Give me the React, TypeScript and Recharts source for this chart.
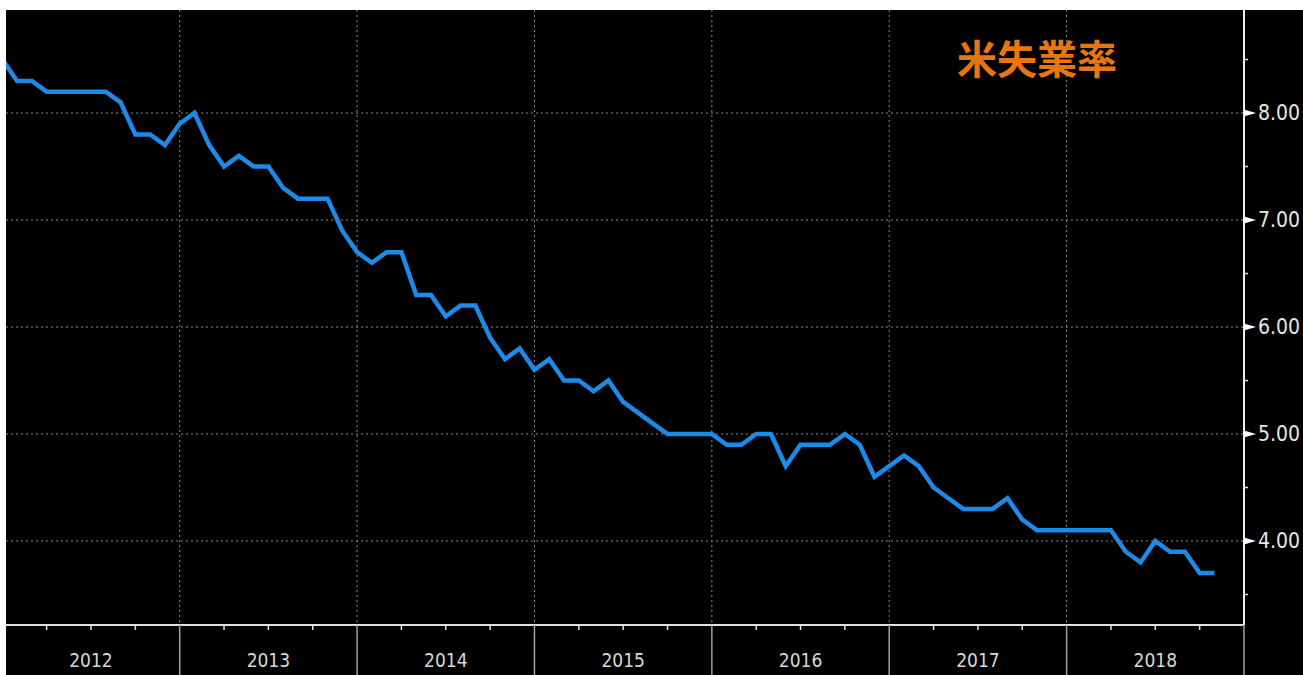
import { LineChart, Line, XAxis, YAxis, CartesianGrid } from 'recharts';

// US unemployment rate, monthly, Dec 2011 .. Oct 2018 (month index t = 0 .. 82)
const RATES = [
    8.5,
    8.3, 8.3, 8.2, 8.2, 8.2, 8.2, 8.2, 8.1, 7.8, 7.8, 7.7, 7.9,
    8.0, 7.7, 7.5, 7.6, 7.5, 7.5, 7.3, 7.2, 7.2, 7.2, 6.9, 6.7,
    6.6, 6.7, 6.7, 6.3, 6.3, 6.1, 6.2, 6.2, 5.9, 5.7, 5.8, 5.6,
    5.7, 5.5, 5.5, 5.4, 5.5, 5.3, 5.2, 5.1, 5.0, 5.0, 5.0, 5.0,
    4.9, 4.9, 5.0, 5.0, 4.7, 4.9, 4.9, 4.9, 5.0, 4.9, 4.6, 4.7,
    4.8, 4.7, 4.5, 4.4, 4.3, 4.3, 4.3, 4.4, 4.2, 4.1, 4.1, 4.1,
    4.1, 4.1, 4.1, 3.9, 3.8, 4.0, 3.9, 3.9, 3.7, 3.7,
];

const YEARS = ['2012', '2013', '2014', '2015', '2016', '2017', '2018'];

// quarter ticks along the time axis (months since start of 2012)
const QUARTER_TICKS = [3, 6, 9, 12, 15, 18, 21, 24, 27, 30, 33, 36, 39, 42, 45, 48, 51, 54, 57, 60, 63, 66, 69, 72, 75, 78, 81, 84];
const YEAR_LINES = [12, 24, 36, 48, 60, 72];

const Y_TICKS = [3.5, 4, 4.5, 5, 5.5, 6, 6.5, 7, 7.5, 8, 8.5];
const Y_MAJOR = [4, 5, 6, 7, 8];

const TITLE = '米失業率';

const data = RATES.map((rate, t) => ({ t, rate }));

const LABEL_FONT = '"Liberation Sans Narrow", "DejaVu Sans Condensed", sans-serif';

const XTick = (props: any) => {
    const { x, y, payload } = props;
    const v = payload.value;
    if (v % 12 === 0) {
        return <line x1={x} x2={x} y1={y} y2={675} stroke="#a0a0a0" strokeWidth={1.5} />;
    }
    return (
        <g>
            <line x1={x} x2={x} y1={y} y2={y + 5} stroke="#e0e0e0" strokeWidth={1.5} />
            {v % 12 === 6 && (
                <text x={x} y={667} textAnchor="middle" fill="#d8d8d8" fontSize={19} fontFamily={LABEL_FONT}>
                    {YEARS[(v - 6) / 12]}
                </text>
            )}
        </g>
    );
};

const YTick = (props: any) => {
    const { x, y, payload } = props;
    const v = payload.value;
    if (!Number.isInteger(v)) {
        return <line x1={x} x2={x + 4} y1={y} y2={y} stroke="#e0e0e0" strokeWidth={1.5} />;
    }
    return (
        <g>
            <polygon points={`${x},${y - 3.5} ${x + 12},${y} ${x},${y + 3.5}`} fill="#ffffff" />
            <text x={x + 14} y={y} dominantBaseline="central" fill="#e6e6e6" fontSize={21} fontFamily={LABEL_FONT}>
                {v.toFixed(2)}
            </text>
        </g>
    );
};

export default function App() {
    return (
        <div style={{ position: 'absolute', left: 0, top: 0, width: 1303, height: 675, background: '#ffffff', overflow: 'hidden' }}>
            <div style={{ position: 'absolute', left: 6, top: 10, width: 1297, height: 665, background: '#000000' }} />
            <div style={{ position: 'absolute', left: 0, top: 0 }}>
                <LineChart width={1303} height={675} data={data} margin={{ top: 10, right: 0, bottom: 0, left: 6 }}>
                    <CartesianGrid
                        stroke="#8a8a8a"
                        strokeDasharray="2 3"
                        horizontalValues={Y_MAJOR}
                        verticalValues={YEAR_LINES}
                    />
                    <XAxis
                        dataKey="t"
                        type="number"
                        domain={[0.25, 84]}
                        allowDataOverflow
                        ticks={QUARTER_TICKS}
                        interval={0}
                        height={50}
                        tickSize={0}
                        tickMargin={0}
                        axisLine={{ stroke: '#e0e0e0', strokeWidth: 2 }}
                        tick={<XTick />}
                    />
                    <YAxis
                        orientation="right"
                        type="number"
                        domain={[3.215, 8.963]}
                        allowDataOverflow
                        ticks={Y_TICKS}
                        interval={0}
                        width={59}
                        tickSize={0}
                        tickMargin={0}
                        axisLine={{ stroke: '#f0f0f0', strokeWidth: 2 }}
                        tick={<YTick />}
                    />
                    <Line
                        type="linear"
                        dataKey="rate"
                        stroke="#1e8ae8"
                        strokeWidth={4.5}
                        dot={false}
                        isAnimationActive={false}
                    />
                </LineChart>
            </div>
            <div
                style={{
                    position: 'absolute',
                    left: 957,
                    top: 37,
                    fontFamily: '"Noto Sans CJK JP", sans-serif',
                    fontWeight: 'bold',
                    fontSize: 40,
                    lineHeight: 1,
                    color: '#e8760f',
                    whiteSpace: 'nowrap',
                }}
            >
                {TITLE}
            </div>
        </div>
    );
}
